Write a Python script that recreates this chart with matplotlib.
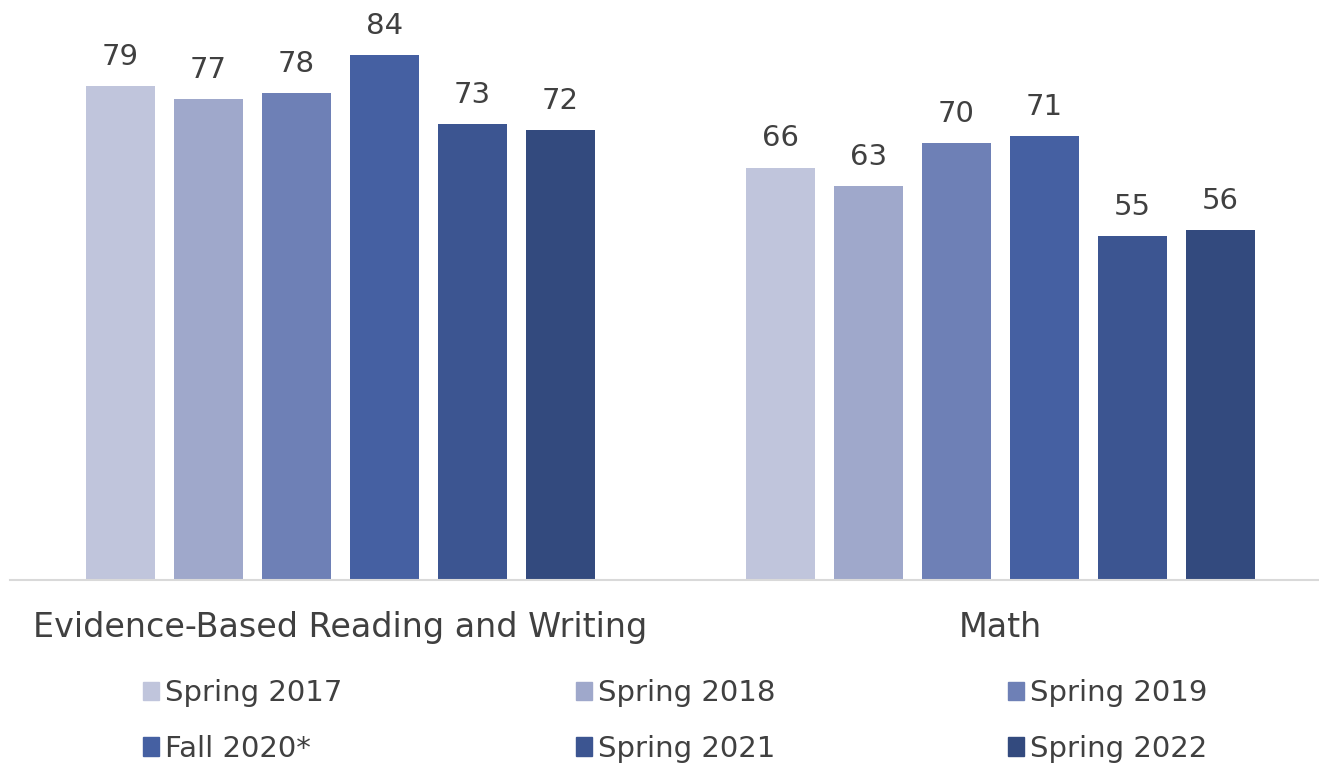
import matplotlib.pyplot as plt
import numpy as np
from matplotlib.patches import Patch

plt.rcParams['font.family'] = ['DejaVu Sans']

subjects = ['Evidence-Based Reading and Writing', 'Math']
terms = ['Spring 2017', 'Spring 2018', 'Spring 2019', 'Fall 2020*', 'Spring 2021', 'Spring 2022']
scores = {
    'Spring 2017': [79, 66],
    'Spring 2018': [77, 63],
    'Spring 2019': [78, 70],
    'Fall 2020*': [84, 71],
    'Spring 2021': [73, 55],
    'Spring 2022': [72, 56],
}
colors = ['#C0C5DC', '#9FA8CB', '#6E80B6', '#4560A2', '#3C5591', '#334A7E']

text_color = '#404040'

fig = plt.figure(figsize=(13.19, 7.71), dpi=100)
ax = fig.add_axes([10 / 1319, 1 - 580 / 771, 1 - 10 / 1319, 580 / 771])

x = np.arange(len(subjects))
pitch = 88 / 660
width = 69 / 660
for i, term in enumerate(terms):
    pos = x + (i - 2.5) * pitch
    bars = ax.bar(pos, scores[term], width, color=colors[i], label=term)
    for b, v in zip(bars, scores[term]):
        ax.text(b.get_x() + b.get_width() / 2, v + 2.4, str(v),
                ha='center', va='bottom', fontsize=21, color=text_color)

ax.set_xlim(-0.5, 1.483)
ax.set_ylim(0, 92.8)
ax.set_yticks([])
ax.set_xticks(x)
ax.set_xticklabels(subjects, fontsize=24, color=text_color)
ax.tick_params(axis='x', length=0, pad=22)
for s in ['top', 'right', 'left']:
    ax.spines[s].set_visible(False)
ax.spines['bottom'].set_color('#D9D9D9')
ax.spines['bottom'].set_linewidth(1.5)

# legend filled row by row: 3 columns x 2 rows
order = [0, 3, 1, 4, 2, 5]
handles = [Patch(color=colors[k]) for k in order]
labels = [terms[k] for k in order]
fig.legend(handles, labels, ncol=3, loc='center', bbox_to_anchor=(0.512, 1 - 721 / 771),
           frameon=False, fontsize=21, labelcolor=text_color,
           handlelength=0.55, handleheight=0.6, handletextpad=0.2,
           columnspacing=8.0, labelspacing=0.95)

fig.savefig('out.png', dpi=100)
